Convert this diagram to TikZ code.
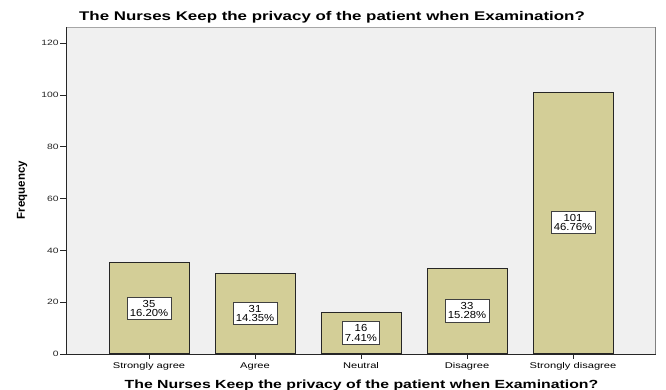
\documentclass[tikz,border=0pt]{standalone}
\usepackage{fontspec}
\setmainfont{Liberation Sans}
\usepackage{tikz}
\usetikzlibrary{positioning}
\definecolor{barfill}{RGB}{211,206,151}
\definecolor{plotbg}{RGB}{240,240,240}
\definecolor{edgegray}{RGB}{128,128,128}
\tikzset{
  wide/.style={xscale=1.34},
  ticklab/.style={font=\fontsize{7.7}{8}\selectfont,wide,inner sep=0.6pt},
  catlab/.style={font=\fontsize{8.3}{9}\selectfont,wide,inner sep=0pt},
  vallab/.style={draw=black!75,fill=white,line width=0.7pt,font=\fontsize{10.2}{9.3}\selectfont,
    align=center,inner xsep=2.4pt,inner ysep=2.8pt,xscale=1.11},
  bar/.style={draw=black!85,fill=barfill,line width=0.9pt,minimum width=80pt,inner sep=0pt,anchor=south},
  ttl/.style={font=\bfseries\fontsize{12.6}{13}\selectfont,wide,inner sep=0pt}
}
\begin{document}
\begin{tikzpicture}[x=1pt,y=-1pt]
  \useasboundingbox (0,0) rectangle (666,389);
  \fill[white] (0,0) rectangle (666,389);
  \fill[plotbg] (66,27) rectangle (656,354);
  \draw[edgegray!70,line width=0.6pt] (66,27)--(656,27);
  \draw[edgegray,line width=1.8pt] (655.5,27)--(655.5,354);
  \draw[black!85,line width=0.8pt] (66,27)--(66,354)--(656,354);
  \foreach \v in {0,20,...,120}{
    \coordinate (yt\v) at (66,354-\v*2.59);
    \draw[black!85,line width=0.8pt] (yt\v)--++(-6,0) node[ticklab,anchor=east] (ylab\v) {\v};
  }
  \foreach \n/\cnt/\pct/\cat in {1/35/16.20/Strongly agree,2/31/14.35/Agree,3/16/7.41/Neutral,
      4/33/15.28/Disagree,5/101/46.76/Strongly disagree}{
    \node[bar,minimum height=\cnt*2.59pt] (bar\n) at (361+\n*106-318,354) {};
    \node[vallab] (val\n) at (bar\n.center) {\cnt\\\pct\%};
    \draw[black!85,line width=0.8pt] (bar\n.south)--++(0,4.5) coordinate (xt\n);
    \node[catlab,anchor=base] (cat\n) at (361+\n*106-318,368) {\cat};
  }
  \node[ttl,anchor=base] (title) at (332,20.7) {The Nurses Keep the privacy of the patient when Examination?};
  \node[ttl,font=\bfseries\fontsize{11.8}{12}\selectfont,anchor=base] (xtitle) at (361.5,388)
    {The Nurses Keep the privacy of the patient when Examination?};
  \node[font=\bfseries\fontsize{11.5}{12}\selectfont,rotate=90,inner sep=0pt] (ytitle) at (22,190) {Frequency};
\end{tikzpicture}
\end{document}
